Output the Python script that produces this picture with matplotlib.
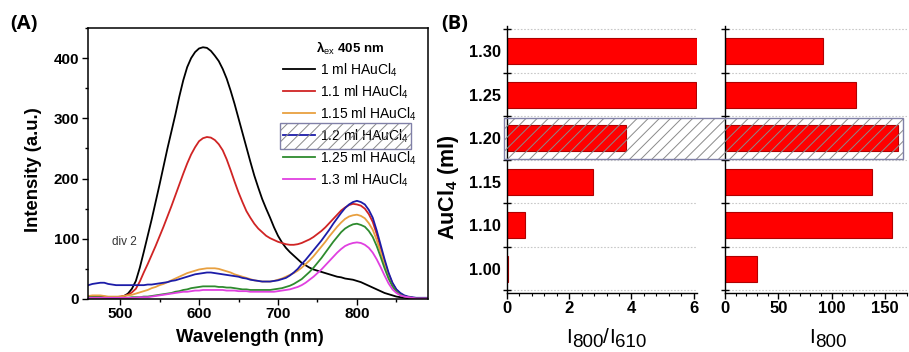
import matplotlib
matplotlib.use("Agg")
import matplotlib.pyplot as plt
import numpy as np
from matplotlib.patches import Rectangle
from matplotlib.ticker import MultipleLocator, FixedLocator, NullFormatter, FixedFormatter

plt.rcParams['font.family'] = ['Liberation Sans', 'DejaVu Sans']
plt.rcParams['mathtext.fontset'] = 'custom'
plt.rcParams['mathtext.rm'] = 'Liberation Sans'
plt.rcParams['mathtext.it'] = 'Liberation Sans:italic'
plt.rcParams['mathtext.bf'] = 'Liberation Sans:bold'
plt.rcParams['hatch.linewidth'] = 0.7

# ---------------- data ----------------
wavelength = list(range(460, 895, 5))

int_1_00 = [3, 4, 4, 3, 3, 2, 2, 2, 3, 5, 9, 17, 30, 52, 78, 105, 132, 161, 190, 220,
            250, 278, 306, 336, 363, 385, 400, 410, 416, 418, 417, 412, 404, 395, 382, 366,
            346, 324, 300, 276, 252, 228, 205, 185, 166, 150, 135, 119, 105, 94, 85, 78,
            72, 66, 60, 56, 52, 49, 47, 45, 43, 41, 39, 37, 36, 34, 33, 32, 30, 28,
            25, 22, 19, 16, 13, 10, 8, 6, 4, 3, 2, 1, 1, 0, 0, 0, 0]
int_1_10 = [5, 5, 5, 4, 4, 3, 3, 3, 4, 5, 7, 11, 17, 29, 44, 58, 73, 88, 104, 120,
            137, 154, 172, 190, 208, 225, 240, 252, 262, 267, 269, 268, 264, 257, 247, 232,
            214, 195, 177, 161, 146, 135, 125, 117, 111, 105, 101, 98, 95, 93, 91, 90,
            90, 91, 93, 96, 99, 103, 108, 113, 119, 126, 133, 140, 147, 152, 156, 158, 157, 155,
            150, 141, 128, 108, 85, 62, 42, 26, 15, 9, 5, 3, 2, 1, 1, 1, 1]
int_1_15 = [5, 6, 6, 6, 5, 4, 4, 4, 4, 5, 6, 7, 9, 11, 13, 15, 18, 20, 23, 25,
            28, 31, 34, 37, 40, 43, 45, 47, 49, 50, 51, 51, 51, 50, 48, 46,
            44, 41, 39, 37, 35, 33, 31, 30, 29, 29, 29, 30, 32, 34, 37, 40,
            43, 47, 52, 58, 64, 71, 79, 87, 95, 104, 112, 120, 127, 133, 137, 139, 140, 138,
            134, 126, 115, 98, 78, 57, 38, 24, 14, 8, 5, 3, 2, 1, 1, 1, 1]
int_1_20 = [23, 25, 26, 27, 27, 25, 24, 23, 23, 23, 23, 23, 23, 23, 23, 24, 24, 25, 26, 27,
            28, 30, 31, 33, 35, 37, 39, 41, 42, 43, 44, 44, 43, 42, 41, 40,
            39, 38, 37, 35, 34, 32, 31, 30, 29, 29, 29, 30, 31, 33, 35, 39,
            44, 50, 58, 65, 73, 81, 89, 97, 106, 115, 125, 134, 143, 151, 157, 161, 163, 161,
            157, 148, 135, 114, 90, 66, 44, 27, 16, 10, 6, 4, 3, 2, 2, 2, 2]
int_1_25 = [3, 3, 3, 3, 2, 2, 2, 2, 2, 2, 2, 3, 3, 3, 4, 4, 5, 6, 7, 8,
            9, 10, 12, 13, 15, 16, 18, 19, 20, 21, 21, 21, 21, 20, 20, 19,
            19, 18, 17, 16, 16, 15, 15, 15, 15, 15, 15, 16, 17, 18, 20, 22,
            25, 29, 33, 39, 45, 52, 60, 68, 77, 86, 95, 103, 111, 117, 121, 124, 125, 123,
            120, 113, 103, 88, 70, 51, 34, 21, 12, 7, 4, 3, 2, 1, 1, 1, 1]
int_1_30 = [2, 2, 2, 2, 2, 2, 2, 2, 2, 2, 2, 2, 2, 3, 3, 3, 4, 5, 6, 7,
            8, 9, 10, 11, 12, 12, 13, 14, 14, 15, 15, 15, 15, 15, 15, 14,
            14, 14, 13, 13, 13, 12, 12, 12, 12, 12, 12, 12, 13, 14, 15, 16,
            18, 20, 23, 27, 32, 37, 43, 49, 56, 63, 70, 77, 83, 88, 91, 93, 94, 93,
            90, 85, 77, 66, 53, 39, 26, 16, 10, 6, 4, 3, 2, 1, 1, 1, 1]

series_labels = ["1 ml HAuCl$_4$", "1.1 ml HAuCl$_4$", "1.15 ml HAuCl$_4$",
                 "1.2 ml HAuCl$_4$", "1.25 ml HAuCl$_4$", "1.3 ml HAuCl$_4$"]
series_colors = ["#000000", "#d02424", "#e8a040", "#1c1ca8", "#2e8b2e", "#e040e0"]

amounts = ["1.00", "1.10", "1.15", "1.20", "1.25", "1.30"]
ratio_800_610 = [0.05, 0.6, 2.76, 3.81, 6.06, 6.11]
i800 = [30.3, 156.3, 137.5, 162.5, 122.5, 92.2]
highlight_amount = "1.20"

# ---------------- figure ----------------
W, H = 909, 352
fig = plt.figure(figsize=(W / 100, H / 100), dpi=100)

def fbox(l, t, r, b):
    return [l / W, 1 - b / H, (r - l) / W, (b - t) / H]

# ---- Panel A ----
axA = fig.add_axes(fbox(87.7, 28, 428, 299))
series = [int_1_00, int_1_10, int_1_15, int_1_20, int_1_25, int_1_30]
for ys, lab, col in zip(series, series_labels, series_colors):
    axA.plot(wavelength, ys, color=col, lw=1.3, label=lab)
axA.set_xlim(459, 890)
axA.set_ylim(0, 450)
axA.xaxis.set_major_locator(MultipleLocator(100))
axA.xaxis.set_minor_locator(MultipleLocator(50))
axA.yaxis.set_major_locator(FixedLocator([0, 100, 200, 300, 400]))
axA.yaxis.set_minor_locator(MultipleLocator(50))
axA.tick_params(which='major', direction='out', length=4, width=1, labelsize=11, pad=2)
axA.tick_params(which='minor', direction='out', length=2.5, width=1)
for lbl in axA.get_xticklabels() + axA.get_yticklabels():
    lbl.set_fontweight('bold')
for sp in axA.spines.values():
    sp.set_linewidth(1.1)
axA.set_xlabel("Wavelength (nm)", fontsize=13.3, fontweight='bold')
axA.set_ylabel("Intensity (a.u.)", fontsize=13.3, fontweight='bold')
axA.xaxis.set_label_coords(0.477, -0.112)
axA.yaxis.set_label_coords(-0.135, 0.476)
axA.text(506, 94, "div 2", fontsize=8.5, ha='center', va='center', color='#333333')

leg = axA.legend(loc='upper right', bbox_to_anchor=(0.984, 0.978), frameon=False,
                 fontsize=10, handlelength=2.3, handletextpad=0.36, labelspacing=0.33,
                 borderaxespad=0.0,
                 title="λ$_{\\mathrm{ex}}$ 405 nm",
                 title_fontproperties={'weight': 'bold', 'size': 9.5})

# ---- Panel B ----
ypos = np.arange(len(amounts))
bounds = np.arange(-0.5, len(amounts) + 0.5, 1.0)
axB1 = fig.add_axes(fbox(506.7, 26, 697, 293))
axB2 = fig.add_axes(fbox(725, 26, 906.5, 293))
for ax, vals, xmax in [(axB1, ratio_800_610, 6.1), (axB2, i800, 170)]:
    ax.barh(ypos, vals, height=0.6, color='#ff0000', edgecolor='#b00000', linewidth=0.8, zorder=2)
    ax.set_ylim(-0.56, 5.58)
    ax.set_xlim(0, xmax)
    ax.spines['top'].set_visible(False)
    ax.spines['right'].set_visible(False)
    for sp in ['left', 'bottom']:
        ax.spines[sp].set_linewidth(1.0)
    ax.yaxis.set_major_locator(FixedLocator(bounds))
    ax.yaxis.set_major_formatter(NullFormatter())
    ax.yaxis.set_minor_locator(FixedLocator(ypos))
    ax.tick_params(axis='y', which='major', direction='inout', length=6, width=1)
    ax.tick_params(axis='y', which='minor', length=0, pad=4, labelsize=11.8)
    ax.tick_params(axis='x', which='major', direction='out', length=4, width=1, labelsize=12, pad=2)
    ax.tick_params(axis='x', which='minor', direction='out', length=2.5, width=0.8)
    for b in bounds:
        ax.axhline(b, color='#c8c8c8', lw=0.8, ls=(0, (1.5, 1.5)), zorder=1)
axB1.xaxis.set_major_locator(MultipleLocator(2))
axB1.xaxis.set_minor_locator(MultipleLocator(0.4))
axB2.xaxis.set_major_locator(MultipleLocator(50))
axB2.xaxis.set_minor_locator(MultipleLocator(10))
axB1.yaxis.set_minor_formatter(FixedFormatter(amounts))
axB2.yaxis.set_minor_formatter(NullFormatter())
for ax in (axB1, axB2):
    for lbl in ax.get_xticklabels() + ax.get_yticklabels(minor=True):
        lbl.set_fontweight('bold')
axB1.set_ylabel(r"AuCl$_\mathbf{4}$ (ml)", fontsize=15.5, fontweight='bold')
axB1.yaxis.set_label_coords(-0.242, 0.397)

# panel letters
fig.text(10 / W, 1 - 24 / H, "(A)", fontsize=14.5, fontweight='bold', va='center', ha='left',
         family=['Open Sans', 'DejaVu Sans'])
fig.text(441 / W, 1 - 24 / H, "(B)", fontsize=14.5, fontweight='bold', va='center', ha='left',
         family=['Open Sans', 'DejaVu Sans'])

fig.canvas.draw()
renderer = fig.canvas.get_renderer()
inv = fig.transFigure.inverted()

# x labels of panel B: "I" with large subscripts
def compose_label(ax, fx, parts, baseline_px):
    texts = [fig.text(0, 0, s, fontsize=fs, va='baseline', ha='left') for s, fs, dy in parts]
    widths = [t.get_window_extent(renderer).width for t in texts]
    cx = ax.transAxes.transform((fx, 0))[0]
    x = cx - sum(widths) / 2
    for t, w, (s, fs, dy) in zip(texts, widths, parts):
        t.set_position((x / W, 1 - (baseline_px + dy) / H))
        x += w

compose_label(axB1, 0.522, [("I", 15, 0), ("800", 13.5, 4), ("/", 15, 0), ("I", 15, 0), ("610", 13.5, 4)], 343)
compose_label(axB2, 0.565, [("I", 15, 0), ("800", 13.5, 4)], 343)

# highlight boxes
hi = amounts.index(highlight_amount)
p0 = axB1.transData.transform((-0.1, hi - 0.47))
p1 = axB2.transData.transform((167, hi + 0.47))
(fx0, fy0) = inv.transform(p0)
(fx1, fy1) = inv.transform(p1)
for kw in [dict(fill=False, hatch='///', edgecolor='#8a8a8a', linewidth=0),
           dict(fill=False, edgecolor='#8080a8', linewidth=1.0)]:
    fig.patches.append(Rectangle((fx0, fy0), fx1 - fx0, fy1 - fy0,
                                 transform=fig.transFigure, zorder=5, **kw))

li = series_labels.index("1.2 ml HAuCl$_4$")
hb = leg.legend_handles[li].get_window_extent(renderer)
tb = leg.get_texts()[li].get_window_extent(renderer)
x0, x1 = hb.x0 - 3, tb.x1 + 2
yc = (tb.y0 + tb.y1) / 2
y0, y1 = yc - 13, yc + 13
(gx0, gy0) = inv.transform((x0, y0))
(gx1, gy1) = inv.transform((x1, y1))
for kw in [dict(fill=False, hatch='///', edgecolor='#8a8a8a', linewidth=0),
           dict(fill=False, edgecolor='#8080a8', linewidth=1.0)]:
    fig.patches.append(Rectangle((gx0, gy0), gx1 - gx0, gy1 - gy0,
                                 transform=fig.transFigure, zorder=5, **kw))

fig.savefig("out.png", dpi=100)
